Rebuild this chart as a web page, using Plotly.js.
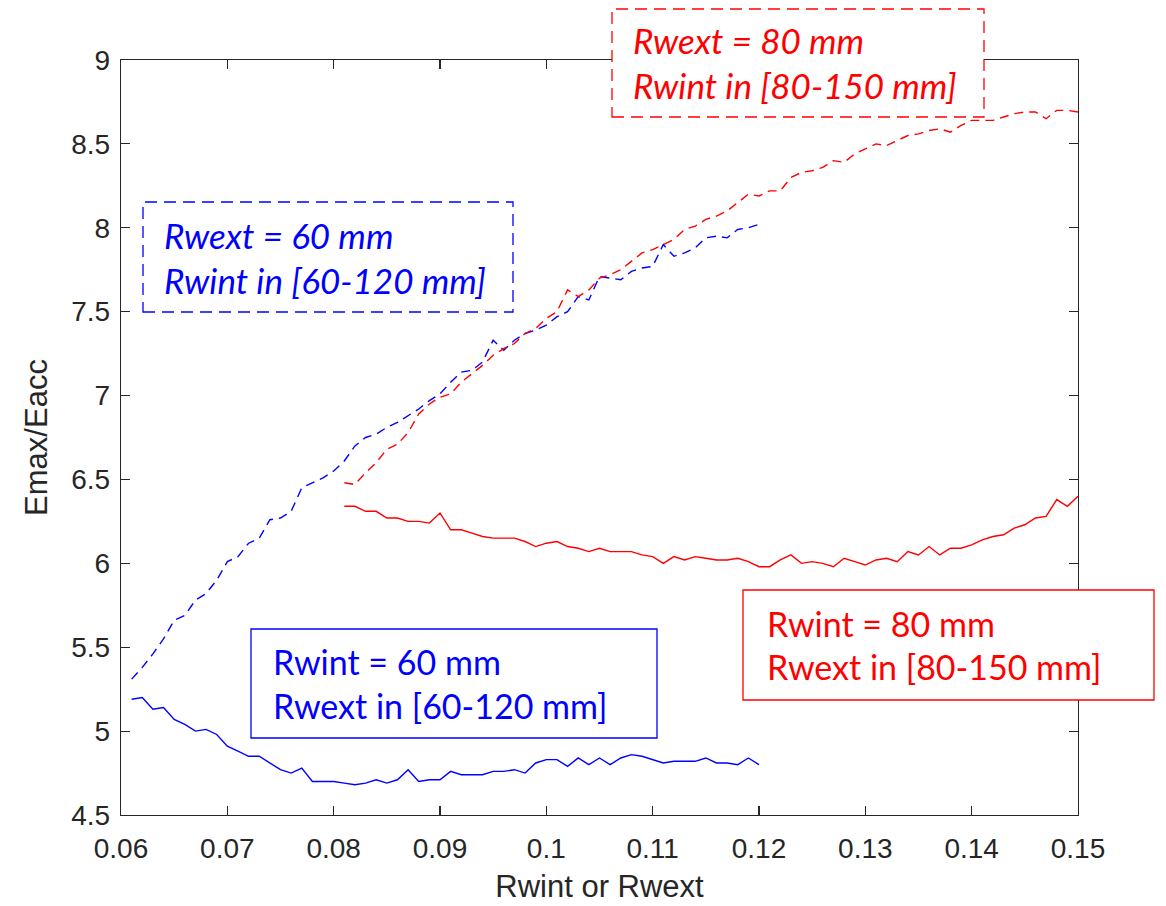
<!DOCTYPE html>
<html>
<head>
<meta charset="utf-8">
<script src="https://cdn.plot.ly/plotly-3.0.1.min.js"></script>
<style>html,body{margin:0;padding:0;background:#fff;}#chart{width:1166px;height:906px;}</style>
</head>
<body>
<div id="chart"></div>
<script>
// ---- data ----
const xBlue = [0.061,0.062,0.063,0.064,0.065,0.066,0.067,0.068,0.069,0.070,
  0.071,0.072,0.073,0.074,0.075,0.076,0.077,0.078,0.079,0.080,
  0.081,0.082,0.083,0.084,0.085,0.086,0.087,0.088,0.089,0.090,
  0.091,0.092,0.093,0.094,0.095,0.096,0.097,0.098,0.099,0.100,
  0.101,0.102,0.103,0.104,0.105,0.106,0.107,0.108,0.109,0.110,
  0.111,0.112,0.113,0.114,0.115,0.116,0.117,0.118,0.119,0.120];
// Rwint = 60 mm, Rwext varied (solid blue)
const blueSolid = [5.19,5.20,5.13,5.14,5.07,5.04,5.00,5.01,4.98,4.91,
  4.88,4.85,4.85,4.81,4.77,4.75,4.78,4.70,4.70,4.70,
  4.69,4.68,4.69,4.71,4.69,4.71,4.77,4.70,4.71,4.71,
  4.76,4.74,4.74,4.74,4.76,4.76,4.77,4.75,4.81,4.83,
  4.83,4.79,4.84,4.80,4.84,4.80,4.84,4.86,4.85,4.83,
  4.81,4.82,4.82,4.82,4.84,4.81,4.81,4.80,4.84,4.80];
// Rwext = 60 mm, Rwint varied (dashed blue)
const blueDashed = [5.31,5.38,5.46,5.55,5.66,5.69,5.78,5.82,5.90,6.01,
  6.04,6.12,6.15,6.26,6.27,6.31,6.45,6.48,6.51,6.55,
  6.61,6.70,6.75,6.77,6.81,6.84,6.88,6.92,6.97,7.01,
  7.08,7.14,7.15,7.20,7.33,7.27,7.33,7.37,7.39,7.42,
  7.47,7.50,7.59,7.57,7.71,7.70,7.69,7.74,7.76,7.77,
  7.90,7.83,7.85,7.88,7.94,7.95,7.94,7.99,8.00,8.02];

const xRed = [0.081,0.082,0.083,0.084,0.085,0.086,0.087,0.088,0.089,0.090,
  0.091,0.092,0.093,0.094,0.095,0.096,0.097,0.098,0.099,0.100,
  0.101,0.102,0.103,0.104,0.105,0.106,0.107,0.108,0.109,0.110,
  0.111,0.112,0.113,0.114,0.115,0.116,0.117,0.118,0.119,0.120,
  0.121,0.122,0.123,0.124,0.125,0.126,0.127,0.128,0.129,0.130,
  0.131,0.132,0.133,0.134,0.135,0.136,0.137,0.138,0.139,0.140,
  0.141,0.142,0.143,0.144,0.145,0.146,0.147,0.148,0.149,0.150];
// Rwint = 80 mm, Rwext varied (solid red)
const redSolid = [6.34,6.34,6.31,6.31,6.27,6.27,6.25,6.25,6.24,6.30,
  6.20,6.20,6.18,6.16,6.15,6.15,6.15,6.13,6.10,6.12,
  6.13,6.10,6.09,6.07,6.09,6.07,6.07,6.07,6.05,6.04,
  6.00,6.04,6.02,6.04,6.03,6.02,6.02,6.03,6.01,5.98,
  5.98,6.02,6.05,6.00,6.01,6.00,5.98,6.03,6.01,5.99,
  6.02,6.03,6.01,6.07,6.05,6.10,6.05,6.09,6.09,6.11,
  6.14,6.16,6.17,6.21,6.23,6.27,6.28,6.38,6.34,6.40];
// Rwext = 80 mm, Rwint varied (dashed red)
const redDashed = [6.48,6.47,6.54,6.60,6.68,6.71,6.78,6.89,6.95,6.99,
  7.01,7.08,7.13,7.18,7.24,7.28,7.31,7.37,7.40,7.46,
  7.50,7.63,7.59,7.63,7.70,7.72,7.75,7.80,7.85,7.87,
  7.90,7.93,7.99,8.01,8.05,8.07,8.10,8.15,8.20,8.19,
  8.22,8.22,8.30,8.33,8.34,8.36,8.40,8.39,8.44,8.47,
  8.50,8.49,8.52,8.55,8.56,8.58,8.59,8.57,8.61,8.64,
  8.64,8.64,8.66,8.68,8.69,8.69,8.65,8.70,8.70,8.69];

const xTickVals = [0.06,0.07,0.08,0.09,0.10,0.11,0.12,0.13,0.14,0.15];
const xTickText = ["0.06","0.07","0.08","0.09","0.1","0.11","0.12","0.13","0.14","0.15"];
const yTickVals = [4.5,5,5.5,6,6.5,7,7.5,8,8.5,9];
const yTickText = ["4.5","5","5.5","6","6.5","7","7.5","8","8.5","9"];

const xTitle = "Rwint or Rwext";
const yTitle = "Emax/Eacc";
const labels = [
  {lines:["Rwext = 60 mm","Rwint in [60-120 mm]"], color:"#0000FF", italic:true,  dashed:true},
  {lines:["Rwext = 80 mm","Rwint in [80-150 mm]"], color:"#FF0000", italic:true,  dashed:true},
  {lines:["Rwint = 60 mm","Rwext in [60-120 mm]"], color:"#0000FF", italic:false, dashed:false},
  {lines:["Rwint = 80 mm","Rwext in [80-150 mm]"], color:"#FF0000", italic:false, dashed:false}
];

// ---- layout helpers (pixel -> paper) ----
const M = {l:121, r:88, t:60, b:91};
const W = 1166, H = 906;
const PW = W - M.l - M.r, PH = H - M.t - M.b;
const px = v => (v - M.l) / PW;
const py = v => (H - M.b - v) / PH;

// box geometry in page pixels: [left, top, right, bottom, textLeft, line1Y, line2Y]
const boxes = [
  [143, 202, 513, 312, 162, 235, 280],
  [612, 9, 984, 117, 631, 40, 85],
  [251, 629, 657, 738, 271, 661, 705],
  [743, 590, 1154, 700, 765, 623, 666]
];

const shapes = [], annotations = [];
labels.forEach((lab, i) => {
  const b = boxes[i];
  shapes.push({type:"rect", xref:"paper", yref:"paper",
    x0:px(b[0]), x1:px(b[2]), y0:py(b[3]), y1:py(b[1]),
    line:{color:lab.color, width:1.3, dash: lab.dashed ? "12px,7px" : "solid"},
    fillcolor:"rgba(255,255,255,1)", layer:"above"});
  lab.lines.forEach((t, k) => {
    annotations.push({xref:"paper", yref:"paper", x:px(b[4]), y:py(b[5+k]),
      xanchor:"left", yanchor:"middle", showarrow:false,
      text: lab.italic ? "<i>"+t+"</i>" : t,
      font:{family:"Lato, 'Open Sans', sans-serif", size: lab.italic ? 35 : 34, color:lab.color}});
  });
});

const traces = [
  {x:xBlue, y:blueDashed, mode:"lines", line:{color:"#0000FF", width:1.4, dash:"9px,6px"}},
  {x:xRed, y:redDashed, mode:"lines", line:{color:"#FF0000", width:1.4, dash:"9px,6px"}},
  {x:xRed, y:redSolid, mode:"lines", line:{color:"#FF0000", width:1.4}},
  {x:xBlue, y:blueSolid, mode:"lines", line:{color:"#0000FF", width:1.4}}
];

const fontFam = "'Liberation Sans', Arial, sans-serif";
const axisCommon = {
  showgrid:false, zeroline:false, showline:true, linecolor:"#262626", linewidth:1.2,
  mirror:"ticks", ticks:"inside", ticklen:9, tickwidth:1.2, tickcolor:"#262626",
  tickfont:{family:fontFam, size:28, color:"#262626"}
};

const layout = {
  width:W, height:H, margin:M, showlegend:false,
  paper_bgcolor:"#ffffff", plot_bgcolor:"#ffffff",
  xaxis: Object.assign({}, axisCommon, {
    range:[0.06,0.15], tickmode:"array", tickvals:xTickVals, ticktext:xTickText,
    ticklabelstandoff:8,
    title:{text:xTitle, font:{family:fontFam, size:31, color:"#262626"}, standoff:12}
  }),
  yaxis: Object.assign({}, axisCommon, {
    range:[4.5,9], tickmode:"array", tickvals:yTickVals, ticktext:yTickText,
    ticklabelstandoff:4,
    title:{text:yTitle, font:{family:fontFam, size:31, color:"#262626"}, standoff:14}
  }),
  shapes: shapes,
  annotations: annotations
};

Plotly.newPlot("chart", traces, layout, {displayModeBar:false, staticPlot:true});
</script>
</body>
</html>
